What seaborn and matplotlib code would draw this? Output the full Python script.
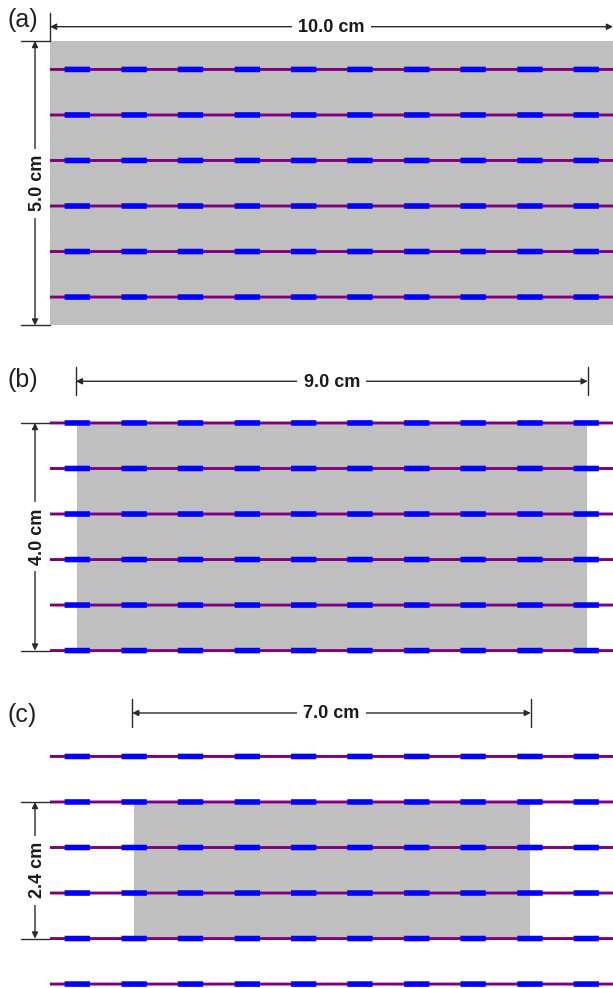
"""Three specimen layouts with strand rows, all lengths in cm."""
import matplotlib
matplotlib.use('Agg')
import matplotlib.pyplot as plt
from matplotlib.patches import Rectangle
import pandas as pd
import seaborn as sns

sns.set_theme(style='white')
plt.rcParams['font.family'] = ['Liberation Sans', 'DejaVu Sans']

# Data, in cm
panel_names = ['(a)', '(b)', '(c)']
panel_tops = [0.0, 6.713, 13.374]
sample_lefts = [0.0, 0.48, 1.49]
sample_widths = [10.0, 9.05, 7.03]
sample_heights = [5.0, 4.0, 2.4]
width_labels = ['10.0 cm', '9.0 cm', '7.0 cm']
height_labels = ['5.0 cm', '4.0 cm', '2.4 cm']
dim_starts = [0.0, 0.46, 1.46]
dim_ends = [10.0, 9.55, 8.54]
rows_a = [0.5, 1.3, 2.1, 2.9, 3.7, 4.5]
rows_b = [0.0, 0.8, 1.6, 2.4, 3.2, 4.0]
rows_c = [-0.8, 0.0, 0.8, 1.6, 2.4, 3.2]
strand_rows = [rows_a, rows_b, rows_c]
strand_start = 0.0
strand_end = 10.0
blue_starts = [0.26, 1.27, 2.27, 3.28, 4.28, 5.28, 6.29, 7.29, 8.30, 9.30]
blue_length = 0.45

# layout, pixel scale of the picture
PX_X = 56.3
PX_Y = 56.9
dim_offsets = [-14.3 / PX_Y, -41.7 / PX_Y, -89 / PX_Y]
label_offsets = [-21 / PX_Y, -43 / PX_Y, -87 / PX_Y]
tick_half = 14 / PX_Y
left_arrow_x = (35 - 50) / PX_X
left_tick_x = (21 - 50) / PX_X
LINE_COLOR = '#2a2a2a'


def strand_frames():
    wire, blue = [], []
    count = 0
    for top, rows in zip(panel_tops, strand_rows):
        for row in rows:
            y = top + row
            for x in (strand_start, strand_end):
                wire.append({'x': x, 'y': y, 'seg': count})
            count += 1
            for start in blue_starts:
                blue.append({'x': start, 'y': y, 'seg': count})
                blue.append({'x': start + blue_length, 'y': y, 'seg': count})
                count += 1
    return pd.DataFrame(wire), pd.DataFrame(blue)


# arrow and label sit under the grey block so the white gap never cuts into it
def dimension(ax, start, end, label, rotation=0):
    ax.annotate('', xy=start, xytext=end, zorder=0.4,
                arrowprops=dict(arrowstyle='<|-|>', color=LINE_COLOR, lw=1.0,
                                mutation_scale=9, shrinkA=0, shrinkB=0))
    dx = 2.5 / PX_X if rotation else 0
    dy = 0 if rotation else 1 / PX_Y
    ax.text((start[0] + end[0]) / 2 + dx, (start[1] + end[1]) / 2 + dy, label,
            rotation=rotation, ha='center', va='center', fontsize=13,
            fontweight='bold', color='#1a1a1a', zorder=0.5,
            bbox=dict(facecolor='white', edgecolor='none', pad=4.5))


def main():
    fig = plt.figure(figsize=(6.13, 9.88), dpi=100)
    ax = fig.add_axes([0, 0, 1, 1])

    for i in range(3):
        ax.add_patch(Rectangle((sample_lefts[i], panel_tops[i]),
                               sample_widths[i], sample_heights[i],
                               facecolor='#BFBFBF', edgecolor='none', zorder=1))

    # snap off keeps the blue centred on the purple wire
    wire, blue = strand_frames()
    sns.lineplot(ax=ax, data=wire, x='x', y='y', units='seg', estimator=None,
                 color='#800080', lw=2.1, legend=False, zorder=2,
                 solid_capstyle='butt', snap=False)
    sns.lineplot(ax=ax, data=blue, x='x', y='y', units='seg', estimator=None,
                 color='#0000FF', lw=4.0, legend=False, zorder=3,
                 solid_capstyle='butt', snap=False)

    for i in range(3):
        top = panel_tops[i]
        bottom = top + sample_heights[i]
        dim_y = top + dim_offsets[i]

        # width dimension with its end ticks
        dimension(ax, (dim_starts[i], dim_y), (dim_ends[i], dim_y),
                  width_labels[i])
        ends = [dim_starts[i]] if i == 0 else [dim_starts[i], dim_ends[i]]
        for x in ends:
            ax.plot([x, x], [dim_y - tick_half, dim_y + tick_half],
                    color=LINE_COLOR, lw=1.0, zorder=4)

        # height dimension with its end ticks
        dimension(ax, (left_arrow_x, top), (left_arrow_x, bottom),
                  height_labels[i], rotation=90)
        for y in (top, bottom):
            ax.plot([left_tick_x, 0], [y, y], color=LINE_COLOR, lw=1.0, zorder=4)

        ax.text((8 - 50) / PX_X, top + label_offsets[i], panel_names[i],
                ha='left', va='center', fontsize=18, color='#222222')

    ax.set_xlim(-50 / PX_X, (613 - 50) / PX_X)
    ax.set_ylim((988 - 41) / PX_Y, -41 / PX_Y)
    ax.axis('off')
    fig.savefig('out.png', dpi=100)


if __name__ == '__main__':
    main()
